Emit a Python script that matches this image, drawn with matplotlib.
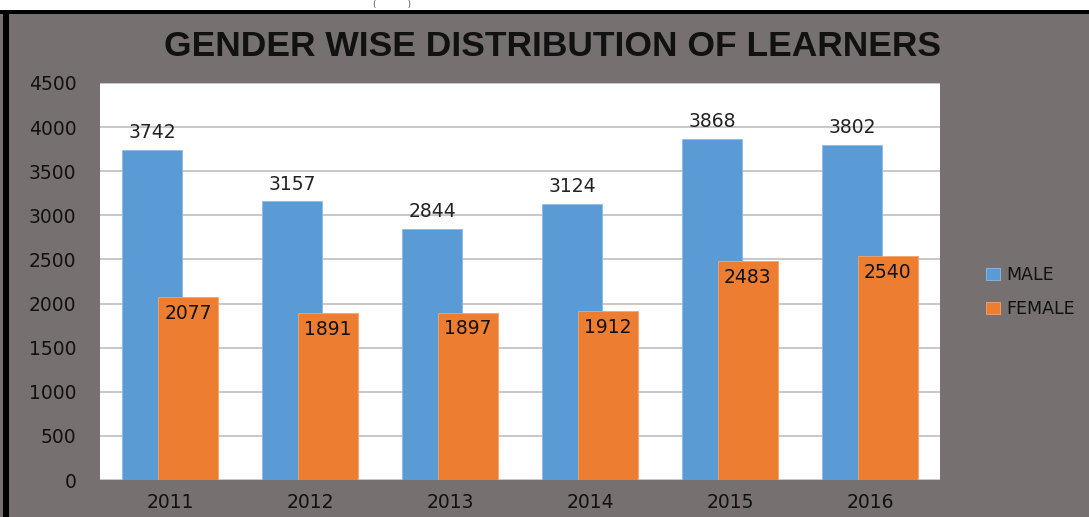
import matplotlib
matplotlib.use("Agg")
import matplotlib.pyplot as plt
import numpy as np
from matplotlib.patches import Rectangle

years = ["2011", "2012", "2013", "2014", "2015", "2016"]
male = [3742, 3157, 2844, 3124, 3868, 3802]
female = [2077, 1891, 1897, 1912, 2483, 2540]
yticks = [0, 500, 1000, 1500, 2000, 2500, 3000, 3500, 4000, 4500]

W, H = 1089, 517
fig = plt.figure(figsize=(W / 100, H / 100), dpi=100)
bg = "#767170"
fig.patch.set_facecolor(bg)

# top white strip and black border
fig.patches.append(Rectangle((0, 1 - 10 / H), 1, 10 / H, transform=fig.transFigure,
                             facecolor="white", edgecolor="none", zorder=0))
fig.patches.append(Rectangle((0, 1 - 14 / H), 1, 4 / H, transform=fig.transFigure,
                             facecolor="black", edgecolor="none", zorder=0))
fig.patches.append(Rectangle((3 / W, 0), 6 / W, 1 - 10 / H, transform=fig.transFigure,
                             facecolor="black", edgecolor="none", zorder=0))
fig.text(392 / W, 1 - 5 / H, "(            )", ha="center", va="center", fontsize=6,
         color="#444444")

left, right, top, bottom = 100, 940, 83, 480
ax = fig.add_axes([left / W, 1 - bottom / H, (right - left) / W, (bottom - top) / H])
ax.set_facecolor("white")

x = np.arange(len(years))
bw = 0.43
off = 0.128
mc = "#5B9BD5"
fc = "#ED7D31"
ax.bar(x - off, male, bw, color=mc, edgecolor="#8fbbe6", linewidth=0.6, zorder=2, label="MALE")
ax.bar(x + off, female, bw, color=fc, edgecolor="#f5a56a", linewidth=0.6, zorder=3, label="FEMALE")

fs = 13.5
for xi, v in zip(x, male):
    ax.text(xi - off, v + 90, str(v), ha="center", va="bottom", fontsize=fs,
            color="#222222", zorder=4)
for xi, v in zip(x, female):
    ax.text(xi + off, v - 185, str(v), ha="center", va="center", fontsize=fs,
            color="#111111", zorder=4)

ax.set_xlim(-0.5, len(years) - 0.5)
ax.set_ylim(0, 4500)
ax.set_yticks(yticks)
ax.set_yticklabels([str(t) for t in yticks], fontsize=fs, color="#111111")
ax.set_xticks(x)
ax.set_xticklabels(years, fontsize=fs, color="#111111")
ax.tick_params(length=0)
ax.tick_params(axis="y", pad=17)
ax.tick_params(axis="x", pad=9)
ax.grid(axis="y", color="#bfbfbf", linewidth=1.2, zorder=0)
ax.set_axisbelow(True)
for s in ax.spines.values():
    s.set_visible(False)

fig.text(553 / W, 1 - 46 / H, "GENDER WISE DISTRIBUTION OF LEARNERS", ha="center",
         va="center", fontsize=25.5, fontweight="bold", color="#111111",
         family="Liberation Sans")

leg = fig.legend(loc="center left", bbox_to_anchor=(970 / W, 1 - 292 / H), frameon=False,
                 fontsize=12.5, handlelength=0.8, handleheight=0.7, labelspacing=0.95,
                 handletextpad=0.4)
for t in leg.get_texts():
    t.set_color("#111111")

fig.savefig("out.png", dpi=100, facecolor=fig.get_facecolor())
